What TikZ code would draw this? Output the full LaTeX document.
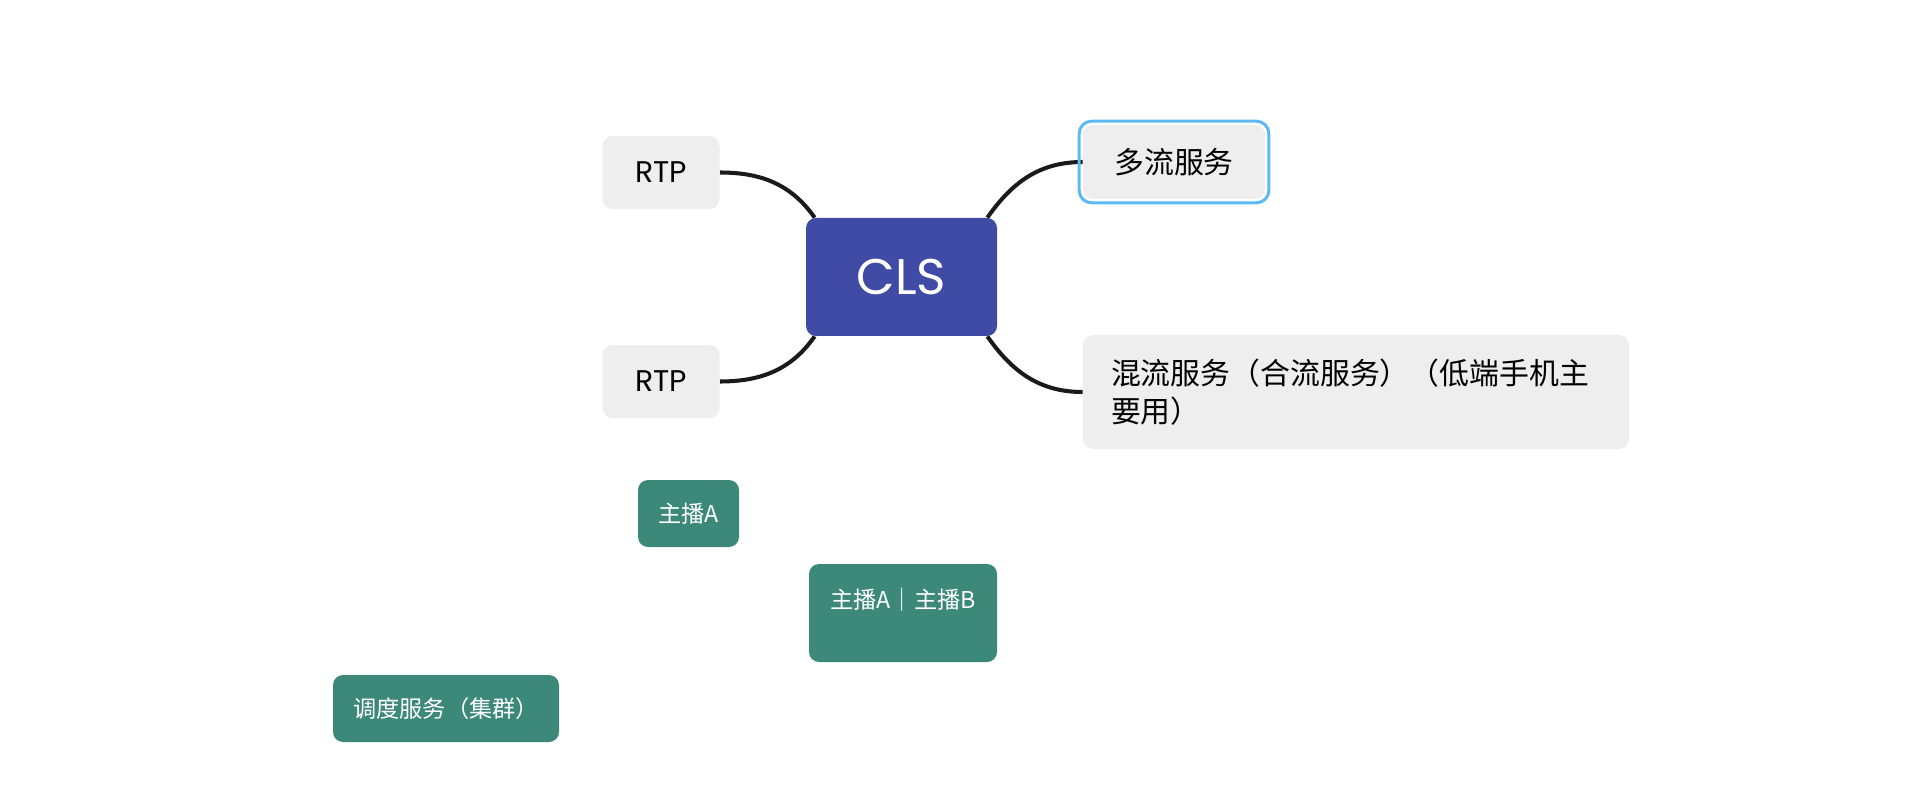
\documentclass[tikz,border=0pt]{standalone}
\usepackage{fontspec}
\setmainfont{Noto Sans CJK SC}
\newfontfamily\latinfont{Poppins}
\usetikzlibrary{calc,backgrounds}

\definecolor{clsblue}{HTML}{3F4BA4}
\definecolor{nodegray}{HTML}{EEEEEE}
\definecolor{hostgreen}{HTML}{3C8879}
\definecolor{selblue}{HTML}{5DB9F5}
\definecolor{linkblack}{HTML}{1A1A1A}

\begin{document}
\begin{tikzpicture}[
  graybox/.style={fill=nodegray, rounded corners=0.2cm, inner sep=0pt,
    font=\fontsize{17}{22}\selectfont},
  greenbox/.style={fill=hostgreen, text=white, rounded corners=0.2cm, inner sep=0pt,
    font=\fontsize{13.2}{18}\selectfont},
  link/.style={draw=linkblack, line width=2.3pt},
  selbox/.style={draw=selblue, line width=1.7pt, rounded corners=0.25cm}
]
  \useasboundingbox (0,0) rectangle (38.36,16.04);

  % central topic
  \node[fill=clsblue, text=white, rounded corners=0.2cm, inner sep=0pt,
        minimum width=3.82cm, minimum height=2.36cm,
        font=\latinfont\fontsize{28.5}{32}\selectfont] (cls) at (18.03,10.50) {CLS};

  % left branches
  \node[graybox, minimum width=2.34cm, minimum height=1.46cm] (rtpA) at (13.22,12.59)
    {\latinfont\fontsize{17}{20}\selectfont RTP};
  \node[graybox, minimum width=2.34cm, minimum height=1.46cm] (rtpB) at (13.22,8.41)
    {\latinfont\fontsize{17}{20}\selectfont RTP};

  % right branches
  \node[graybox, minimum width=3.64cm, minimum height=1.48cm] (dl) at (23.48,12.80) {多流服务};
  \node[graybox, minimum width=10.92cm, minimum height=2.28cm, text width=9.8cm, align=left]
    (hl) at (27.12,8.20) {混流服务（合流服务）（低端手机主\\要用）};

  % selection frame round the first right branch
  \draw[selbox] ($(dl.south west)+(-0.07,-0.07)$) rectangle ($(dl.north east)+(0.07,0.07)$);

  % connectors, behind the boxes
  \begin{scope}[on background layer]
    \draw[link] (rtpA.east) to[out=0,in=125] ($(cls.north west)+(0.18,0)$);
    \draw[link] (rtpB.east) to[out=0,in=235] ($(cls.south west)+(0.18,0)$);
    \draw[link] ($(cls.north east)+(-0.2,0)$) to[out=55,in=180] (dl.west);
    \draw[link] ($(cls.south east)+(-0.2,0)$) to[out=-55,in=180] (hl.west);
  \end{scope}

  % floating topics
  \node[greenbox, minimum width=2.02cm, minimum height=1.34cm] (hostA) at (13.77,5.77) {主播A};
  \node[greenbox, minimum width=3.76cm, text height=0.894cm, text depth=1.066cm]
    (hostAB) at (18.06,3.78) {主播A｜主播B};
  \node[greenbox, minimum width=4.52cm, minimum height=1.34cm] (sched) at (8.92,1.87) {调度服务（集群）};
\end{tikzpicture}
\end{document}
